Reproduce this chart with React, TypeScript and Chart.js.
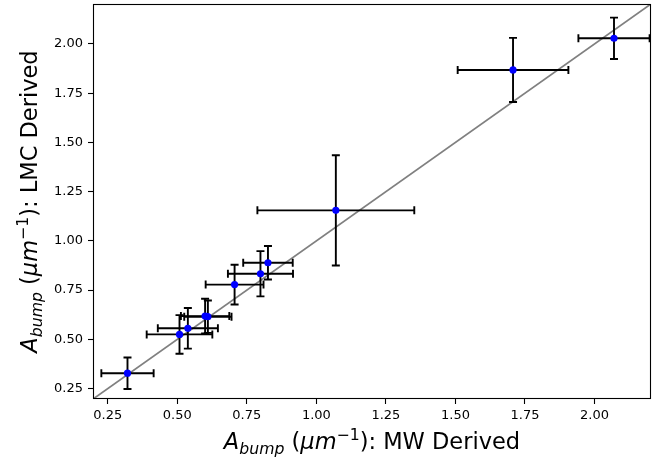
import React, { useEffect, useRef } from "react";
import { Chart, registerables } from "chart.js";

Chart.register(...registerables);

// ---- data ----
const mwValues = [0.321, 0.508, 0.538, 0.600, 0.610, 0.706, 0.799, 0.826, 1.070, 1.707, 2.070];
const lmcValues = [0.328, 0.525, 0.556, 0.618, 0.615, 0.778, 0.833, 0.889, 1.155, 1.868, 2.029];
const mwErrors = [0.094, 0.118, 0.108, 0.087, 0.085, 0.104, 0.117, 0.089, 0.282, 0.199, 0.128];
const lmcErrors = [0.080, 0.098, 0.103, 0.088, 0.082, 0.101, 0.115, 0.085, 0.280, 0.163, 0.105];
const tickValues = [0.25, 0.5, 0.75, 1.0, 1.25, 1.5, 1.75, 2.0];
const axisMin = 0.197;
const axisMax = 2.203;

const FONT = "'DejaVu Sans', sans-serif";
const LABEL_SIZE = 22.5;

type Seg = { t: string; italic?: boolean; scale?: number; dy?: number };

const xLabelSegs: Seg[] = [
  { t: "A", italic: true },
  { t: "bump", italic: true, scale: 0.7, dy: 0.22 },
  { t: " (" },
  { t: "\u03bcm", italic: true },
  { t: "\u22121", scale: 0.7, dy: -0.42 },
  { t: "): MW Derived" },
];
const yLabelSegs: Seg[] = [
  { t: "A", italic: true },
  { t: "bump", italic: true, scale: 0.7, dy: 0.22 },
  { t: " (" },
  { t: "\u03bcm", italic: true },
  { t: "\u22121", scale: 0.7, dy: -0.42 },
  { t: "): LMC Derived" },
];

function drawMath(ctx: CanvasRenderingContext2D, segs: Seg[], size: number) {
  const fontOf = (s: Seg) =>
    `${s.italic ? "oblique " : ""}${Math.round(size * (s.scale || 1) * 10) / 10}px ${FONT}`;
  let total = 0;
  const widths = segs.map((s) => {
    ctx.font = fontOf(s);
    const w = ctx.measureText(s.t).width;
    total += w;
    return w;
  });
  let x = -total / 2;
  ctx.textAlign = "left";
  ctx.textBaseline = "alphabetic";
  ctx.fillStyle = "#000";
  segs.forEach((s, i) => {
    ctx.font = fontOf(s);
    ctx.fillText(s.t, x, (s.dy || 0) * size);
    x += widths[i];
  });
}

const errorBarsPlugin = {
  id: "errorBars",
  beforeDatasetDraw(chart: any, args: any) {
    if (args.index !== 0) return;
    const { ctx, scales } = chart;
    const xs = scales.x;
    const ys = scales.y;
    const cap = 4;
    ctx.save();
    ctx.strokeStyle = "#000";
    ctx.lineWidth = 1.9;
    ctx.lineCap = "butt";
    mwValues.forEach((xv, i) => {
      const yv = lmcValues[i];
      const px = xs.getPixelForValue(xv);
      const py = ys.getPixelForValue(yv);
      const xl = xs.getPixelForValue(xv - mwErrors[i]);
      const xr = xs.getPixelForValue(xv + mwErrors[i]);
      const yt = ys.getPixelForValue(yv + lmcErrors[i]);
      const yb = ys.getPixelForValue(yv - lmcErrors[i]);
      ctx.beginPath();
      ctx.moveTo(xl, py);
      ctx.lineTo(xr, py);
      ctx.moveTo(px, yt);
      ctx.lineTo(px, yb);
      ctx.moveTo(xl, py - cap);
      ctx.lineTo(xl, py + cap);
      ctx.moveTo(xr, py - cap);
      ctx.lineTo(xr, py + cap);
      ctx.moveTo(px - cap, yt);
      ctx.lineTo(px + cap, yt);
      ctx.moveTo(px - cap, yb);
      ctx.lineTo(px + cap, yb);
      ctx.stroke();
    });
    ctx.restore();
  },
};

const framePlugin = {
  id: "frameAndLabels",
  afterDraw(chart: any) {
    const { ctx, chartArea } = chart;
    ctx.save();
    ctx.strokeStyle = "#000";
    ctx.lineWidth = 1.1;
    ctx.strokeRect(
      Math.round(chartArea.left) + 0.5,
      Math.round(chartArea.top) + 0.5,
      Math.round(chartArea.right - chartArea.left) - 1,
      Math.round(chartArea.bottom - chartArea.top) - 1
    );
    const cx = (chartArea.left + chartArea.right) / 2;
    ctx.save();
    ctx.translate(cx, 449);
    drawMath(ctx, xLabelSegs, LABEL_SIZE);
    ctx.restore();
    const cy = (chartArea.top + chartArea.bottom) / 2;
    ctx.save();
    ctx.translate(37, cy);
    ctx.rotate(-Math.PI / 2);
    drawMath(ctx, yLabelSegs, LABEL_SIZE);
    ctx.restore();
    ctx.restore();
  },
};

export default function App() {
  const ref = useRef<HTMLCanvasElement | null>(null);

  useEffect(() => {
    document.body.style.margin = "0";
    const canvas = ref.current;
    if (!canvas) return;
    const points = mwValues.map((x, i) => ({ x, y: lmcValues[i] }));
    const tickFmt = (v: any) => Number(v).toFixed(2);
    const chart = new Chart(canvas, {
      type: "scatter",
      data: {
        datasets: [
          {
            type: "scatter",
            data: points,
            backgroundColor: "#0000ff",
            borderColor: "#0000ff",
            borderWidth: 0,
            pointRadius: 3.6,
            order: 0,
          } as any,
          {
            type: "line",
            data: [
              { x: axisMin, y: axisMin },
              { x: axisMax, y: axisMax },
            ],
            borderColor: "#808080",
            borderWidth: 1.8,
            pointRadius: 0,
            fill: false,
            order: 2,
          } as any,
        ],
      },
      options: {
        responsive: false,
        animation: false,
        devicePixelRatio: 1,
        layout: { padding: { left: 0, right: 11, top: 4, bottom: 0 } },
        plugins: {
          legend: { display: false },
          tooltip: { enabled: false },
        },
        scales: {
          x: {
            type: "linear",
            min: axisMin,
            max: axisMax,
            afterBuildTicks: (s: any) => {
              s.ticks = tickValues.map((v) => ({ value: v }));
            },
            afterFit: (s: any) => {
              s.height = 63;
              s.paddingLeft = 0;
              s.paddingRight = 0;
            },
            grid: {
              drawOnChartArea: false,
              drawTicks: true,
              tickLength: 5,
              tickColor: "#000",
              tickWidth: 1.1,
            },
            border: { display: false },
            ticks: {
              color: "#000",
              font: { family: FONT, size: 13 },
              padding: 4,
              maxRotation: 0,
              autoSkip: false,
              callback: tickFmt,
            },
          },
          y: {
            type: "linear",
            min: axisMin,
            max: axisMax,
            afterBuildTicks: (s: any) => {
              s.ticks = tickValues.map((v) => ({ value: v }));
            },
            afterFit: (s: any) => {
              s.width = 93;
              s.paddingTop = 0;
              s.paddingBottom = 0;
            },
            grid: {
              drawOnChartArea: false,
              drawTicks: true,
              tickLength: 5,
              tickColor: "#000",
              tickWidth: 1.1,
            },
            border: { display: false },
            ticks: {
              color: "#000",
              font: { family: FONT, size: 13 },
              padding: 5,
              autoSkip: false,
              callback: tickFmt,
            },
          },
        },
      },
      plugins: [errorBarsPlugin, framePlugin],
    } as any);
    return () => chart.destroy();
  }, []);

  return (
    <div style={{ position: "absolute", left: 0, top: 0, width: 662, height: 462 }}>
      <canvas ref={ref} width={662} height={462} style={{ display: "block" }} />
    </div>
  );
}
